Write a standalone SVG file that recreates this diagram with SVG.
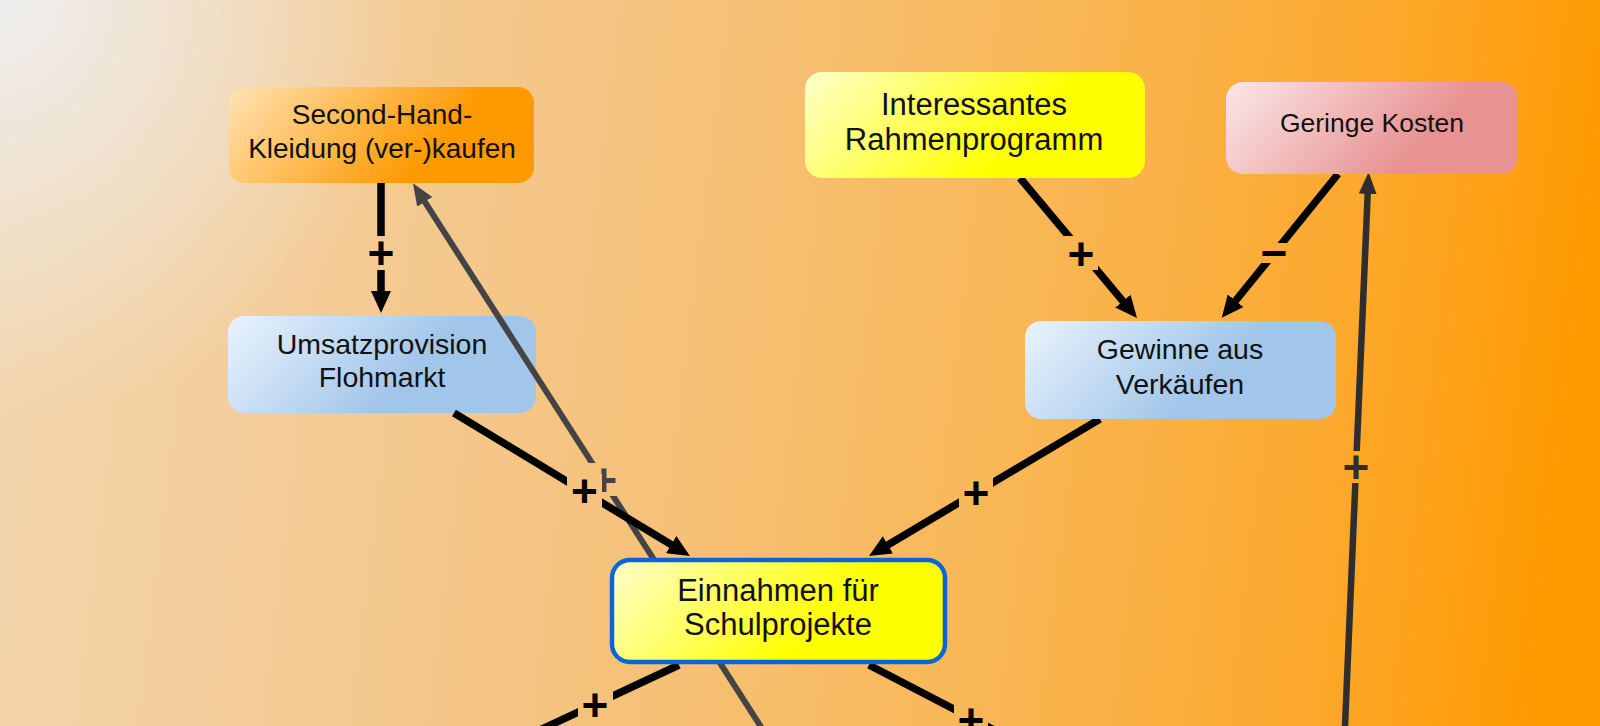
<svg xmlns="http://www.w3.org/2000/svg" width="1600" height="726" viewBox="0 0 1600 726">
<defs>
<linearGradient id="bgL" gradientUnits="userSpaceOnUse" x1="0" y1="0" x2="1600" y2="200">
<stop offset="0" stop-color="#f2d6ae"/>
<stop offset="0.15" stop-color="#f3cf9f"/>
<stop offset="0.4" stop-color="#f5c37f"/>
<stop offset="0.62" stop-color="#f8b95c"/>
<stop offset="0.85" stop-color="#fca92e"/>
<stop offset="1" stop-color="#ff9a00"/>
</linearGradient>
<radialGradient id="bgR" gradientUnits="userSpaceOnUse" cx="0" cy="0" r="420">
<stop offset="0" stop-color="#eeeeee" stop-opacity="1"/>
<stop offset="0.5" stop-color="#eeeeee" stop-opacity="0.5"/>
<stop offset="1" stop-color="#eeeeee" stop-opacity="0"/>
</radialGradient>
<linearGradient id="gOrange" x1="0" y1="0" x2="1" y2="0.3">
<stop offset="0" stop-color="#ffe3b5"/>
<stop offset="0.8" stop-color="#ff9900"/>
</linearGradient>
<linearGradient id="gYellow" x1="0" y1="0" x2="1" y2="0.3">
<stop offset="0" stop-color="#ffffcc"/>
<stop offset="0.75" stop-color="#ffff00"/>
</linearGradient>
<linearGradient id="gRed" x1="0" y1="0" x2="1" y2="0.3">
<stop offset="0" stop-color="#fbe8e8"/>
<stop offset="0.8" stop-color="#e89292"/>
</linearGradient>
<linearGradient id="gBlue" x1="0" y1="0" x2="1" y2="0.3">
<stop offset="0" stop-color="#eaf3fd"/>
<stop offset="0.7" stop-color="#a2c6ea"/>
</linearGradient>
<marker id="ahB" markerUnits="userSpaceOnUse" markerWidth="22" markerHeight="20" refX="10" refY="10" orient="auto">
<path d="M0,0 L22,10 L0,20 z" fill="#000"/>
</marker>
<marker id="ahG" markerUnits="userSpaceOnUse" markerWidth="22" markerHeight="18" refX="10" refY="9" orient="auto">
<path d="M0,0 L22,9 L0,18 z" fill="#444"/>
</marker>
<marker id="ahG2" markerUnits="userSpaceOnUse" markerWidth="22" markerHeight="18" refX="10" refY="9" orient="auto">
<path d="M0,0 L22,9 L0,18 z" fill="#2e2e2e"/>
</marker>
<mask id="gap" maskUnits="userSpaceOnUse" x="0" y="0" width="1600" height="726">
<rect x="0" y="0" width="1600" height="726" fill="#fff"/>
<rect x="364" y="236" width="35" height="34" fill="#000"/>
<rect x="567" y="474" width="35" height="34" fill="#000"/>
<rect x="588" y="463" width="32" height="33" fill="#000"/>
<rect x="959" y="475" width="34" height="35" fill="#000"/>
<rect x="1064" y="236" width="34" height="34" fill="#000"/>
<rect x="1257" y="243" width="34" height="20" fill="#000"/>
<rect x="1339" y="451" width="34" height="32" fill="#000"/>
<rect x="578" y="688" width="35" height="34" fill="#000"/>
<rect x="954" y="703" width="34" height="34" fill="#000"/>
</mask>
<mask id="gapB" maskUnits="userSpaceOnUse" x="0" y="0" width="1600" height="726">
<rect x="0" y="0" width="1600" height="726" fill="#fff"/>
<rect x="567" y="474" width="35" height="34" fill="#000"/>
</mask>
</defs>
<style>
.box{stroke:none}
.t{font-family:"Liberation Sans",Arial,sans-serif;fill:#111;text-anchor:middle}
.blk{stroke:#000;stroke-width:7.5;fill:none;stroke-linecap:butt}
.gry{stroke:#444;stroke-width:6;fill:none}
.gry2{stroke:#2e2e2e;stroke-width:6.5;fill:none}
.lb{font-family:"Liberation Sans",Arial,sans-serif;font-weight:bold;font-size:46px;text-anchor:middle;fill:#000}
</style>
<rect x="0" y="0" width="1600" height="726" fill="url(#bgL)"/>
<rect x="0" y="0" width="1600" height="726" fill="url(#bgR)"/>

<g id="node-umsatz">
<rect class="box" x="228" y="316" width="308" height="97" rx="16" fill="url(#gBlue)"/>
<text class="t" x="382" y="354" font-size="28.5">Umsatzprovision</text>
<text class="t" x="382" y="387" font-size="28.5">Flohmarkt</text>
</g>

<g id="connectors">
<g mask="url(#gap)">
<line class="gry" x1="795" y1="780" x2="419.4" y2="193.4" marker-end="url(#ahG)"/>
<line class="gry2" x1="1342.7" y1="780" x2="1368.1" y2="184" marker-end="url(#ahG2)"/>
<line class="blk" x1="381" y1="183" x2="381" y2="301" marker-end="url(#ahB)"/>
<line class="blk" x1="454" y1="413" x2="679.7" y2="549.8" marker-end="url(#ahB)"/>
<line class="blk" x1="1100" y1="419" x2="879.3" y2="549.9" marker-end="url(#ahB)"/>
<line class="blk" x1="1020" y1="178" x2="1129.3" y2="308.8" marker-end="url(#ahB)"/>
<line class="blk" x1="1338" y1="174" x2="1229.3" y2="308.5" marker-end="url(#ahB)"/>
<line class="blk" x1="679" y1="665" x2="450" y2="772"/>
<line class="blk" x1="869" y1="665" x2="1100" y2="785"/>
</g>
</g>

<g id="labels">
<text class="lb" x="604" y="496" style="fill:#444" mask="url(#gapB)">+</text>
<text class="lb" x="1356" y="483" style="fill:#2e2e2e">+</text>
<text class="lb" x="381" y="269">+</text>
<text class="lb" x="584.5" y="507">+</text>
<text class="lb" x="976" y="509">+</text>
<text class="lb" x="1081" y="270">+</text>
<text class="lb" x="1274" y="269">−</text>
<text class="lb" x="595" y="721">+</text>
<text class="lb" x="971" y="736">+</text>
</g>

<g id="node-secondhand">
<rect class="box" x="229" y="87" width="305" height="96" rx="16" fill="url(#gOrange)"/>
<text class="t" x="382" y="124" font-size="28">Second-Hand-</text>
<text class="t" x="382" y="158" font-size="28">Kleidung (ver-)kaufen</text>
</g>

<g id="node-rahmen">
<rect class="box" x="805" y="72" width="340" height="106" rx="17" fill="url(#gYellow)"/>
<text class="t" x="974" y="115" font-size="31">Interessantes</text>
<text class="t" x="974" y="150" font-size="31">Rahmenprogramm</text>
</g>

<g id="node-kosten">
<rect class="box" x="1226" y="82" width="292" height="92" rx="17" fill="url(#gRed)"/>
<text class="t" x="1372" y="132" font-size="26.5">Geringe Kosten</text>
</g>

<g id="node-gewinne">
<rect class="box" x="1025" y="321" width="311" height="98" rx="16" fill="url(#gBlue)"/>
<text class="t" x="1180" y="359" font-size="28.5">Gewinne aus</text>
<text class="t" x="1180" y="394" font-size="28.5">Verkäufen</text>
</g>

<g id="node-einnahmen">
<rect x="612" y="560" width="333" height="102" rx="18" fill="url(#gYellow)" stroke="#0a64dc" stroke-width="4.5"/>
<text class="t" x="778" y="601" font-size="31">Einnahmen für</text>
<text class="t" x="778" y="635" font-size="31">Schulprojekte</text>
</g>
</svg>
